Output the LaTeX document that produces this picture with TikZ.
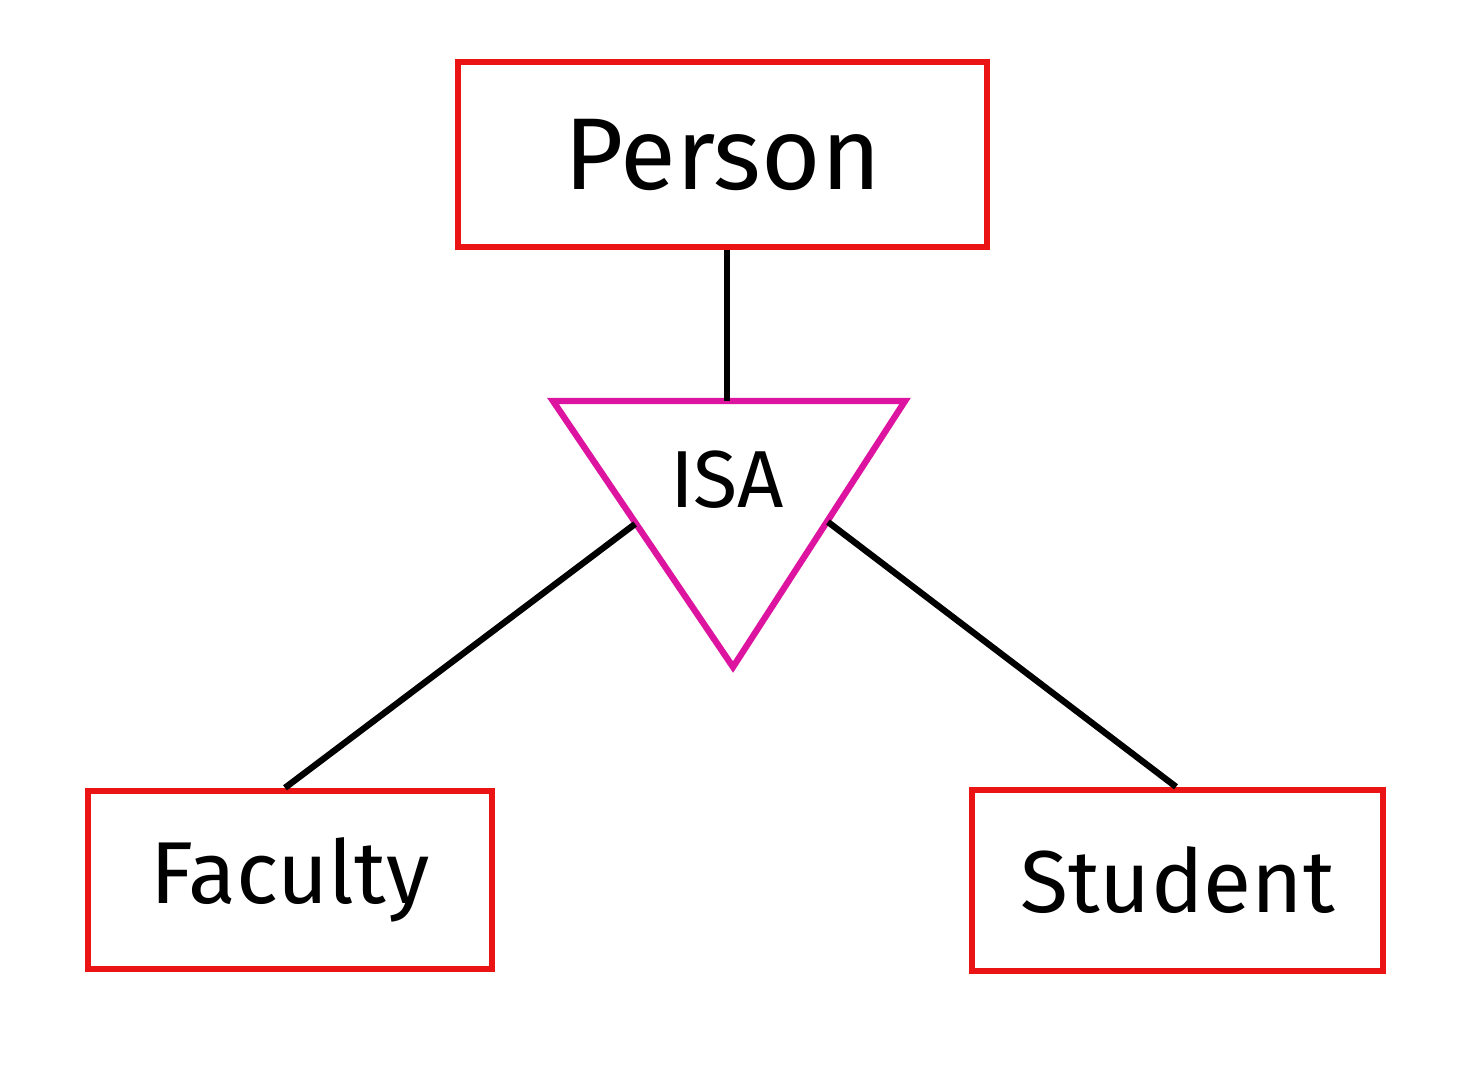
\documentclass[tikz,border=0pt]{standalone}
\usepackage{fontspec}
\setmainfont{Fira Sans}
\definecolor{boxred}{RGB}{235,20,20}
\definecolor{isamag}{RGB}{220,20,160}
\begin{document}
\begin{tikzpicture}[x=0.01cm,y=-0.01cm,
  ent/.style={draw=boxred,line width=1.8pt,inner sep=0pt},
  conn/.style={line width=1.8pt,black}]
\useasboundingbox (0,0) rectangle (1471,1069);
\node[ent,minimum width=5.29cm,minimum height=1.85cm,font=\fontsize{29}{34}\selectfont] (person) at (722.5,154.5) {Person};
\node[ent,minimum width=4.04cm,minimum height=1.78cm,font=\fontsize{25}{30}\selectfont] (faculty) at (290,880) {Faculty};
\node[ent,minimum width=4.11cm,minimum height=1.81cm,font=\fontsize{25}{30}\selectfont] (student) at (1177.5,880.5) {Student};
\coordinate (tl) at (553,401);
\coordinate (tr) at (905,401);
\coordinate (tb) at (733,667);
\coordinate (ttop) at (727,401);
\coordinate (tleft) at (635,524);
\coordinate (tright) at (828,522);
\draw[isamag,line width=1.8pt,line join=miter] (tl) -- (tr) -- (tb) -- cycle;
\node[font=\fontsize{23}{28}\selectfont] (isa) at (727,480) {ISA};
\draw[conn] (person.south -| ttop) -- (ttop);
\draw[conn] (tleft) -- (faculty.north -| 285,0);
\draw[conn] (tright) -- (student.north -| 1176,0);
\end{tikzpicture}
\end{document}
